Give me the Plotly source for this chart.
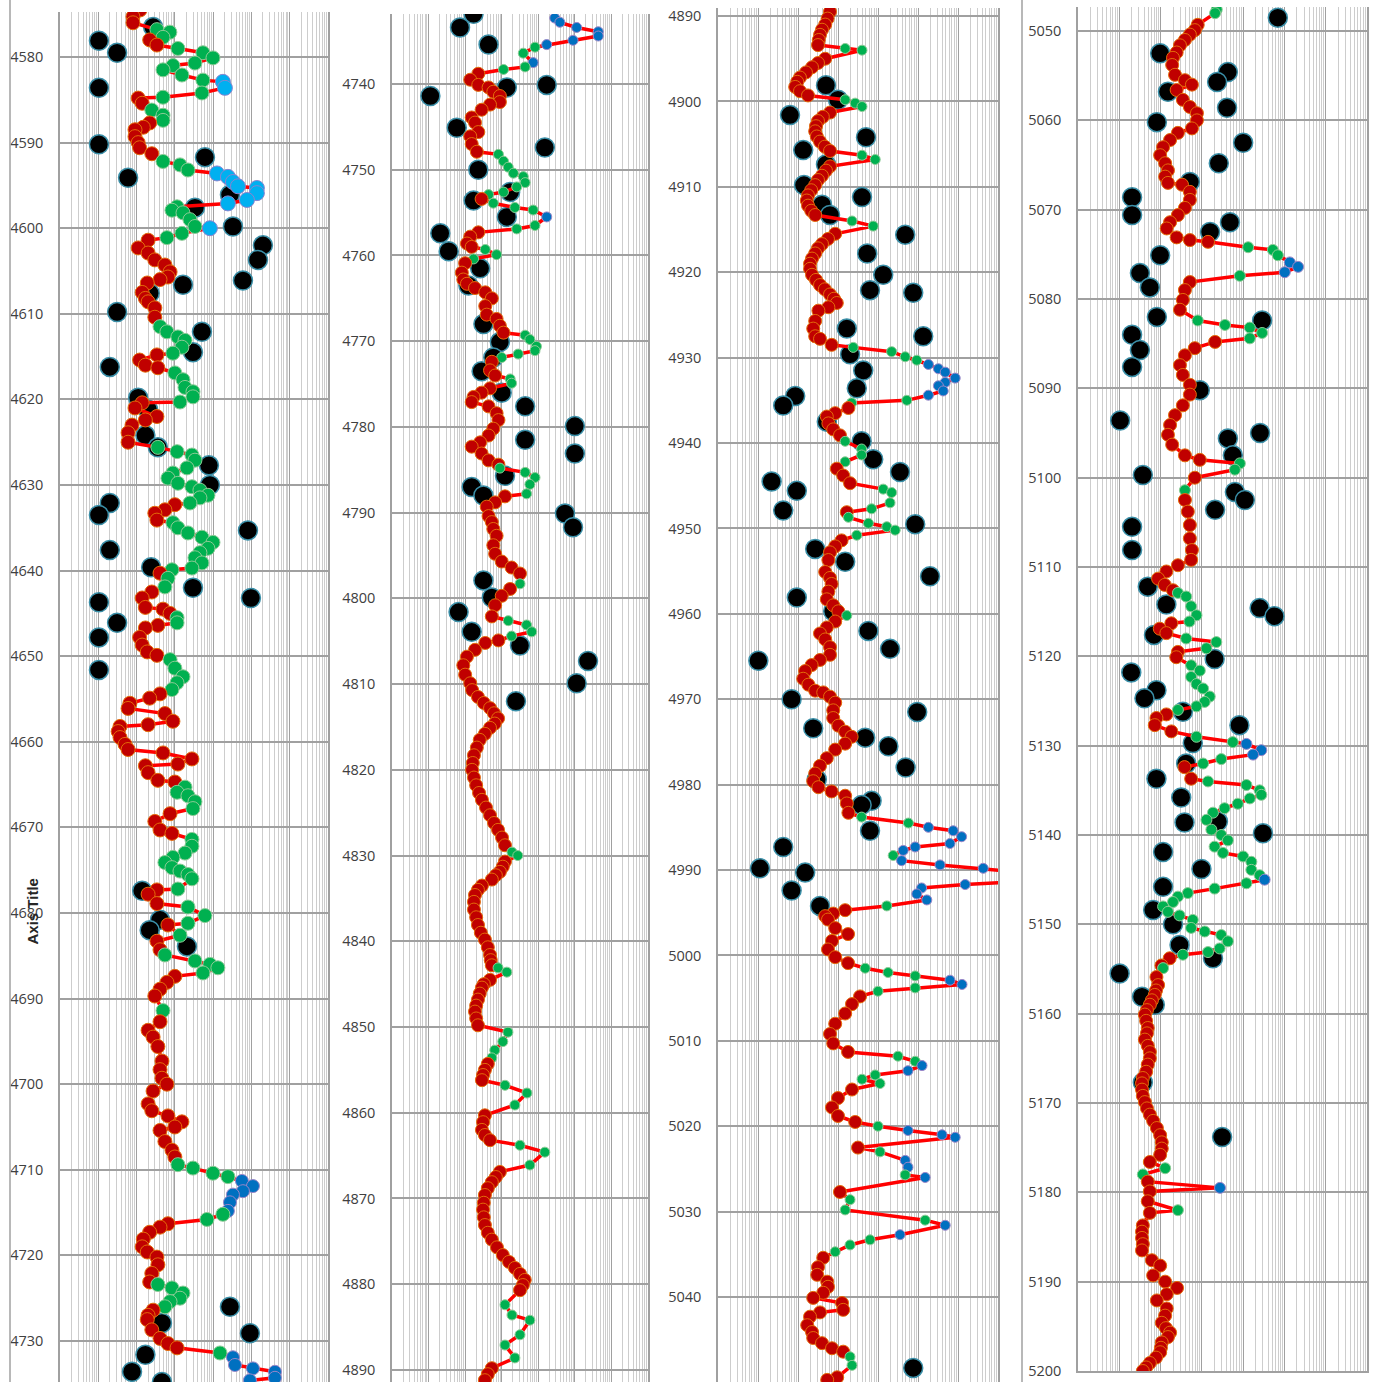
import plotly.graph_objects as go

# ---------------- well log data: depth, log value, facies class ----------------
# facies codes: R = red, G = green, B = blue, C = cyan


def expand(runs):
    """Facies classes are stored as (code, count) runs along the depth list."""
    return "".join(code * n for code, n in runs)


p1_depth = [
    4574.5, 4575.3, 4576.0, 4576.8, 4577.1, 4577.7, 4578.0, 4578.6, 4579.0, 4579.5,
    4580.1, 4580.7, 4581.0, 4581.5, 4582.1, 4582.7, 4582.9, 4583.6, 4584.2, 4584.7,
    4584.8, 4585.4, 4586.2, 4586.8, 4587.4, 4587.7, 4588.2, 4588.5, 4589.3, 4590.0,
    4590.6, 4591.3, 4592.2, 4592.6, 4593.2, 4593.6, 4594.0, 4594.6, 4595.1, 4595.3,
    4595.9, 4596.7, 4597.1, 4597.5, 4597.9, 4598.2, 4599.0, 4599.8, 4600.0, 4600.6,
    4601.1, 4601.4, 4602.3, 4602.9, 4603.7, 4604.3, 4605.1, 4605.7, 4606.0, 4606.4,
    4607.5, 4608.2, 4608.6, 4609.3, 4610.4, 4611.5, 4612.1, 4612.7, 4613.1, 4613.9,
    4614.6, 4614.8, 4615.4, 4616.0, 4616.3, 4616.9, 4617.7, 4618.6, 4619.1, 4619.7,
    4620.3, 4620.4, 4621.0, 4622.0, 4622.4, 4623.0, 4623.9, 4625.0, 4625.6, 4626.1,
    4626.5, 4627.1, 4628.0, 4628.6, 4629.2, 4629.8, 4630.2, 4630.6, 4631.2, 4631.5,
    4632.1, 4632.3, 4632.9, 4633.3, 4634.1, 4634.4, 4635.0, 4635.6, 4636.1, 4636.7,
    4637.4, 4637.9, 4638.5, 4639.1, 4639.7, 4639.9, 4640.3, 4640.9, 4641.9, 4642.5,
    4643.2, 4644.3, 4644.5, 4645.0, 4645.5, 4646.1, 4646.4, 4646.7, 4647.8, 4648.7,
    4649.5, 4649.9, 4650.4, 4651.4, 4652.4, 4653.1, 4653.9, 4654.4, 4654.9, 4655.5,
    4656.1, 4656.7, 4657.6, 4658.0, 4658.2, 4658.8, 4659.5, 4660.3, 4660.9, 4661.3,
    4662.0, 4662.6, 4662.8, 4663.6, 4664.5, 4664.7, 4665.3, 4665.9, 4666.3, 4667.0,
    4667.8, 4668.4, 4669.3, 4670.3, 4670.7, 4671.4, 4672.2, 4673.0, 4673.5, 4674.1,
    4674.7, 4675.1, 4675.5, 4676.0, 4677.2, 4677.3, 4677.8, 4678.9, 4679.3, 4680.3,
    4681.2, 4681.4, 4682.6, 4683.3, 4684.3, 4684.9, 4685.6, 4686.0, 4686.4, 4687.0,
    4687.4, 4688.1, 4688.9, 4689.7, 4691.4, 4692.7, 4693.7, 4694.5, 4695.6, 4697.3,
    4698.3, 4699.3, 4700.0, 4700.8, 4702.3, 4703.1, 4703.7, 4704.4, 4705.0, 4705.4,
    4706.7, 4707.7, 4708.5, 4709.4, 4709.8, 4710.4, 4710.8, 4711.3, 4711.9, 4712.5,
    4712.9, 4713.8, 4714.8, 4715.2, 4715.8, 4716.3, 4716.7, 4717.3, 4718.1, 4719.0,
    4719.6, 4720.2, 4721.1, 4722.1, 4723.1, 4723.4, 4723.8, 4724.4, 4725.0, 4725.4,
    4726.0, 4726.4, 4727.0, 4727.5, 4728.7, 4729.7, 4730.3, 4730.8, 4731.4, 4731.9,
    4732.8, 4733.2, 4733.6, 4734.3, 4734.6,
]
p1_value = [
    12.3, 8.05, 8.05, 34, 74, 49, 22, 34, 120, 540,
    990, 335, 89, 49, 153, 540, 1800, 2030, 510, 49,
    11, 14, 25, 49, 49, 22, 15, 9.1, 9.1, 11,
    12, 25, 49, 136, 220, 1260, 2430, 3290, 4450, 13900,
    13900, 7640, 2430, 114, 84, 163, 248, 335, 824, 153,
    62, 20, 11, 20, 30, 55, 75, 66, 41, 19,
    14, 17, 20, 30, 30, 41, 62, 120, 184, 153,
    89, 34, 12, 17, 36, 100, 163, 184, 297, 297,
    136, 14, 9.1, 34, 17, 7.6, 6.0, 6.0, 36, 114,
    279, 335, 207, 89, 66, 120, 279, 452, 731, 452,
    248, 100, 55, 30, 34, 89, 120, 220, 510, 990,
    731, 452, 335, 510, 279, 84, 41, 66, 55, 25,
    14, 17, 49, 75, 114, 114, 36, 17, 12, 14,
    19, 34, 75, 100, 163, 114, 84, 41, 22, 6.7,
    6.0, 55, 89, 20, 3.7, 3.3, 3.7, 5.0, 6.0, 49,
    279, 120, 17, 20, 36, 100, 184, 114, 220, 335,
    297, 75, 30, 41, 84, 279, 279, 184, 89, 55,
    84, 136, 220, 279, 120, 34, 20, 34, 220, 611,
    220, 66, 136, 34, 41, 55, 335, 824, 1330, 542,
    100, 62, 41, 30, 49, 41, 20, 27, 36, 46,
    41, 46, 62, 27, 20, 25, 66, 153, 100, 41,
    55, 84, 100, 120, 297, 990, 2430, 5650, 10950, 6000,
    3290, 2750, 2430, 1800, 690, 66, 41, 22, 15, 14,
    19, 34, 36, 25, 22, 36, 84, 163, 136, 75,
    55, 27, 20, 19, 25, 41, 66, 114, 1510, 3290,
    3710, 10950, 41100, 41100, 9140,
]
p1_facies = (
    "RRRGGGRRGG" "GGGGGGCCGG" "RRGGGRRRRR" "RRGGGCCCCC" "CCCGGGGGCG"
    "GRRRRRRRRR" "RRRRRGGGGG" "GRRRRGGGGG" "GRRRRRRRGG" "GGGGGGGGGG"
    "GRRRRGGGGG" "GGGGGGRGGR" "RRRRGGRRRR" "RRGGGGGRRR" "RRRRRRRRRR"
    "RRRRRRGGGG" "GRRRRGGGGG" "GGGGGRRRGG" "GRGRRGGGGG" "RRRRGRRRRR"
    "RRRRRRRRRR" "RRRGGGGBBB" "BBBGGRRRRR" "RRRRRGGGGG" "GRRRRRRRGB"
    "BBBBB"
)

p2_depth = [
    4732.3, 4732.8, 4733.4, 4733.9, 4734.4, 4734.9, 4735.4, 4735.7, 4736.4, 4737.5,
    4738.0, 4738.3, 4738.8, 4739.5, 4740.1, 4740.4, 4740.9, 4741.4, 4742.1, 4742.4,
    4743.0, 4743.9, 4744.5, 4745.6, 4746.1, 4747.0, 4747.9, 4748.2, 4749.0, 4749.7,
    4750.4, 4750.8, 4751.5, 4752.0, 4752.6, 4752.9, 4753.4, 4753.9, 4754.4, 4754.7,
    4755.5, 4756.5, 4756.9, 4757.3, 4757.8, 4758.6, 4759.0, 4759.3, 4759.9, 4760.4,
    4760.9, 4762.0, 4762.8, 4763.3, 4763.8, 4764.3, 4765.0, 4765.9, 4766.9, 4767.4,
    4768.2, 4769.0, 4769.3, 4769.8, 4770.6, 4771.1, 4771.5, 4771.9, 4772.4, 4773.4,
    4774.0, 4774.4, 4774.9, 4775.5, 4776.0, 4776.5, 4777.1, 4777.6, 4778.4, 4779.2,
    4780.2, 4781.0, 4781.8, 4782.3, 4783.1, 4783.9, 4784.4, 4784.8, 4785.3, 4785.9,
    4786.7, 4787.8, 4788.1, 4788.8, 4789.3, 4790.4, 4791.1, 4791.9, 4792.7, 4793.8,
    4794.8, 4795.7, 4796.4, 4797.1, 4798.3, 4798.9, 4799.7, 4800.8, 4802.1, 4802.6,
    4803.1, 4803.9, 4804.4, 4804.9, 4805.2, 4806.0, 4806.8, 4807.8, 4808.9, 4809.9,
    4810.7, 4811.5, 4812.2, 4812.8, 4813.4, 4814.0, 4814.6, 4815.1, 4815.8, 4816.5,
    4817.4, 4818.3, 4819.2, 4820.0, 4820.9, 4821.8, 4822.7, 4823.5, 4824.4, 4825.3,
    4826.2, 4827.0, 4827.9, 4828.8, 4829.6, 4830.0, 4830.7, 4831.3, 4831.9, 4832.3,
    4832.8, 4833.5, 4834.0, 4834.6, 4835.4, 4836.3, 4837.2, 4838.1, 4839.0, 4839.8,
    4840.7, 4841.6, 4842.2, 4842.8, 4843.1, 4843.6, 4844.5, 4845.0, 4845.4, 4846.1,
    4846.8, 4847.5, 4848.2, 4849.0, 4849.8, 4850.6, 4851.7, 4852.7, 4853.6, 4854.3,
    4855.0, 4855.6, 4856.2, 4856.8, 4857.7, 4859.1, 4860.3, 4861.1, 4862.0, 4862.6,
    4863.2, 4863.8, 4864.6, 4866.1, 4866.9, 4867.5, 4868.1, 4868.8, 4869.6, 4870.5,
    4871.3, 4872.2, 4873.1, 4874.0, 4874.8, 4875.7, 4876.6, 4877.4, 4878.1, 4878.8,
    4879.5, 4880.1, 4880.7, 4882.4, 4883.6, 4884.2, 4885.9, 4887.1, 4888.6, 4889.8,
    4890.5, 4891.2,
]
p2_value = [
    2820, 3890, 11200, 43700, 43700, 8910, 1700, 813, 389, 724,
    437, 112, 22.9, 13.8, 22.9, 43.7, 58.9, 89.1, 89.1, 47.9,
    28.2, 15.1, 18.6, 22.9, 13.8, 15.1, 20.9, 81.3, 112, 151,
    209, 389, 437, 257, 112, 43.7, 28.2, 58.9, 229, 724,
    1700, 813, 257, 22.9, 13.8, 11.2, 15.1, 35.5, 72.4, 17.0,
    10, 8.13, 8.91, 11.2, 18.6, 35.5, 53.7, 35.5, 38.9, 72.4,
    89.1, 112, 437, 589, 891, 813, 282, 100, 53.7, 47.9,
    66.1, 170, 186, 47.9, 28.2, 17.0, 15.1, 43.7, 72.4, 81.3,
    58.9, 43.7, 25.7, 15.1, 28.2, 43.7, 81.3, 89.1, 437, 813,
    589, 479, 123, 66.1, 38.9, 43.7, 53.7, 58.9, 72.4, 58.9,
    66.1, 100, 186, 316, 316, 170, 100, 66.1, 53.7, 151,
    479, 661, 186, 81.3, 35.5, 18.6, 11.2, 8.91, 10, 13.8,
    15.5, 22.4, 32.4, 47.9, 61.7, 79.4, 64.6, 47.9, 34.7, 25.1,
    20.9, 17.4, 16.2, 15.5, 17.4, 20, 24.0, 28.8, 37.2, 47.9,
    61.7, 79.4, 102, 123, 191, 275, 123, 107, 89.1, 69.2,
    53.7, 28.8, 22.4, 18.6, 17.4, 17.4, 20, 22.4, 26.9, 34.7,
    41.7, 47.9, 50.1, 53.7, 79.4, 138, 47.9, 32.4, 28.8, 25.1,
    22.4, 20, 18.6, 20, 22.4, 148, 107, 64.6, 53.7, 41.7,
    34.7, 30.9, 28.8, 123, 490, 229, 34.7, 30.9, 28.8, 34.7,
    47.9, 316, 1510, 589, 89.1, 69.2, 53.7, 41.7, 34.7, 32.4,
    30.9, 32.4, 34.7, 41.7, 53.7, 74.1, 107, 158, 229, 316,
    427, 380, 316, 123, 191, 589, 316, 123, 229, 53.7,
    41.7, 34.7,
]
p2_facies = expand([
    ("B", 7), ("G", 2), ("B", 1), ("G", 2), ("R", 15), ("G", 9), ("R", 1), ("G", 3),
    ("B", 1), ("G", 2), ("R", 4), ("G", 3), ("R", 12), ("G", 6), ("R", 3), ("G", 2),
    ("R", 14), ("G", 5), ("R", 12), ("G", 1), ("R", 4), ("G", 4), ("R", 31), ("G", 2),
    ("R", 18), ("G", 2), ("R", 9), ("G", 4), ("R", 4), ("G", 3), ("R", 5), ("G", 3),
    ("R", 19), ("G", 6), ("R", 3),
])

p3_depth = [
    4889.5, 4890.3, 4891.0, 4891.6, 4892.2, 4892.8, 4893.4, 4893.8, 4894.0, 4895.0,
    4895.5, 4896.0, 4896.6, 4897.2, 4897.7, 4898.3, 4898.8, 4899.3, 4899.8, 4900.2,
    4900.6, 4901.3, 4901.8, 4902.3, 4902.9, 4903.5, 4904.1, 4904.7, 4905.3, 4905.8,
    4906.3, 4906.8, 4907.6, 4908.1, 4908.7, 4909.2, 4909.8, 4910.4, 4911.0, 4911.6,
    4912.2, 4912.8, 4913.3, 4914.0, 4914.6, 4915.5, 4916.1, 4916.7, 4917.2, 4917.8,
    4918.4, 4919.0, 4919.6, 4920.3, 4920.9, 4921.5, 4922.0, 4922.6, 4923.1,
    4923.6, 4924.1, 4924.5, 4925.7, 4926.6, 4927.5, 4927.8, 4928.5, 4928.8, 4929.3,
    4929.9, 4930.3, 4930.8, 4931.3, 4931.7, 4932.4, 4932.9, 4933.3, 4933.9, 4934.4,
    4935.0, 4935.3, 4935.9, 4936.5, 4936.9, 4937.7, 4938.4, 4939.1, 4939.8, 4940.7,
    4941.4, 4942.2, 4943.0, 4943.8, 4944.7, 4945.4, 4945.8, 4947.0, 4947.7, 4948.1,
    4948.7, 4949.4, 4949.8, 4950.2, 4950.8, 4951.4, 4952.1, 4952.8, 4953.7, 4955.1,
    4955.8, 4956.5, 4957.4, 4958.3, 4959.0, 4959.7, 4960.2, 4960.9, 4961.6, 4962.3,
    4963.0, 4963.9, 4964.8, 4965.4, 4966.0, 4966.7, 4967.6, 4968.3, 4969.0, 4969.2,
    4969.7, 4970.4, 4971.3, 4972.2, 4973.1, 4973.8, 4974.4, 4975.2, 4975.9, 4976.9,
    4977.8, 4978.7, 4979.6, 4980.3, 4980.8, 4981.3, 4982.2, 4983.3, 4983.8, 4984.5,
    4985.0, 4985.4, 4986.1, 4986.9, 4987.3, 4987.7, 4988.3, 4988.9, 4989.4, 4989.8,
    4990.2, 4991.4, 4991.7, 4992.1, 4992.8, 4993.5, 4994.2, 4994.7, 4995.1, 4995.4,
    4995.8, 4996.8, 4997.5, 4998.3, 4999.3, 5000.2, 5000.9, 5001.5, 5002.0, 5002.4,
    5002.9, 5003.4, 5003.8, 5004.2, 5004.8, 5005.7, 5006.8, 5008.0, 5009.2, 5010.3,
    5011.3, 5011.8, 5012.4, 5012.9, 5013.5, 5014.0, 5014.5, 5015.0, 5015.7, 5016.7,
    5017.8, 5018.8, 5019.5, 5020.0, 5020.5, 5021.0, 5021.3, 5022.5, 5023.0, 5024.0,
    5024.8, 5025.7, 5026.0, 5027.7, 5028.6, 5029.8, 5031.0, 5031.6, 5032.7, 5033.3,
    5033.9, 5034.7, 5035.4, 5036.5, 5037.4, 5038.2, 5038.8, 5039.5, 5040.1, 5040.7,
    5041.5, 5041.8, 5042.3, 5043.3, 5044.1, 5044.8, 5045.4, 5046.0, 5046.4, 5047.0,
    5048.0, 5049.4, 5049.7,
]
p3_value = [
    63.1, 55.0, 47.9, 39.8, 35.5, 33.1, 31.6, 151, 398, 47.9,
    31.6, 22.4, 15.8, 11.2, 9.55, 8.51, 11.2, 17.8, 151, 269,
    398, 63.1, 41.7, 31.6, 28.2, 26.9, 29.5, 35.5, 46.8, 63.1,
    398, 851, 63.1, 50.1, 39.8, 31.6, 26.9, 21.4, 17.8, 16.6,
    17.8, 21.4, 26.9, 224, 759, 85.1, 56.2, 39.8, 31.6, 26.9,
    22.4, 20, 20, 22.4, 28.2, 35.5, 46.8, 63.1, 79.4,
    93.3, 57.5, 32.4, 26.9, 24.0, 26.9, 35.5, 69.2, 240, 2190,
    4790, 9330, 18200, 32400, 47900, 85100, 47900, 32400, 42700, 18200,
    5250, 219, 182, 85.1, 52.5, 57.5, 75.9, 112, 151, 389,
    389, 151, 93.3, 135, 200, 1350, 2190, 2000, 692, 166,
    182, 575, 1660, 2690, 295, 123, 85.1, 63.1, 57.5, 47.9,
    63.1, 69.2, 57.5, 52.5, 75.9, 102, 166, 85.1, 52.5, 35.5,
    47.9, 63.1, 63.1, 35.5, 21.9, 15.1, 13.5, 18.2, 26.9, 42.7,
    63.1, 85.1, 75.9, 75.9, 102, 151, 219, 151, 85.1, 52.5,
    35.5, 26.9, 24.0, 32.4, 69.2, 151, 166, 182, 389, 5750,
    18200, 75900, 123000, 63100, 8510, 4270, 2400, 3890, 35500, 427000,
    2500000, 2500000, 151000, 12300, 9330, 16600, 1660, 151, 75.9, 47.9,
    56.2, 85.1, 178, 70.8, 56.2, 85.1, 178, 479, 1780, 8510,
    63100, 126000, 8510, 1000, 355, 224, 151, 85.1, 63.1, 75.9,
    178, 3160, 8510, 12600, 5620, 851, 398, 1120, 224, 100,
    70.8, 100, 269, 1000, 5620, 39800, 85100, 316, 1120, 4790,
    5620, 4790, 15100, 112, 200, 151, 15100, 47900, 3550, 631,
    200, 85.1, 42.7, 31.6, 30.2, 53.7, 56.2, 42.7, 24.0, 126,
    135, 35.5, 20, 17.0, 22.4, 24.0, 39.8, 70.8, 135, 200,
    224, 95.5, 53.7,
]
p3_facies = expand([
    ("R", 7), ("G", 2), ("R", 9), ("G", 3), ("R", 9), ("G", 2), ("R", 11), ("G", 2),
    ("R", 22), ("G", 4), ("B", 8), ("G", 2), ("R", 6), ("G", 4), ("R", 3), ("G", 4),
    ("R", 1), ("G", 5), ("R", 11), ("G", 1), ("R", 31), ("G", 2), ("B", 6), ("G", 1),
    ("B", 9), ("G", 1), ("R", 10), ("G", 3), ("B", 2), ("G", 2), ("R", 7), ("G", 2),
    ("B", 2), ("G", 3), ("R", 5), ("G", 1), ("B", 3), ("R", 1), ("G", 1), ("B", 2),
    ("G", 1), ("B", 1), ("R", 1), ("G", 3), ("B", 2), ("G", 3), ("R", 17), ("G", 2),
    ("R", 2),
])

p4_depth = [
    5047.6, 5048.0, 5049.3, 5049.9, 5050.4, 5051.0, 5051.6, 5052.4, 5053.0, 5053.8,
    5054.9, 5055.5, 5056.0, 5056.6, 5057.7, 5058.5, 5059.2, 5060.0, 5060.9, 5061.4,
    5062.2, 5063.0, 5063.9, 5064.8, 5065.6, 5066.3, 5067.0, 5067.2, 5068.0, 5068.9,
    5069.8, 5070.6, 5071.4, 5072.1, 5073.1, 5073.4, 5073.6, 5074.2, 5074.5, 5075.1,
    5075.9, 5076.4, 5077.0, 5077.4, 5078.1, 5079.0, 5080.1, 5081.2, 5082.4, 5082.9,
    5083.2, 5083.8, 5084.4, 5084.8, 5085.5, 5086.3, 5087.4, 5088.5, 5089.6, 5090.7,
    5091.9, 5093.0, 5094.1, 5095.2, 5096.3, 5097.5, 5098.0, 5098.4, 5099.1, 5100.0,
    5101.4, 5102.5, 5103.8, 5105.3, 5106.8, 5108.1, 5109.2, 5109.8, 5110.5, 5111.3,
    5112.0, 5112.6, 5112.9, 5113.3, 5114.4, 5115.4, 5116.1, 5116.3, 5116.9, 5117.4,
    5118.0, 5118.4, 5119.1, 5119.5, 5120.1, 5121.0, 5121.6, 5122.3, 5123.1, 5123.6,
    5124.5, 5125.1, 5125.6, 5126.0, 5126.5, 5126.9, 5127.7, 5128.4, 5129.0, 5129.6,
    5129.8, 5130.5, 5131.0, 5131.5, 5132.0, 5132.4, 5133.7, 5134.0, 5134.4, 5135.0,
    5135.5, 5135.9, 5136.5, 5137.0, 5137.5, 5138.3, 5139.4, 5140.0, 5140.6, 5141.3,
    5142.0, 5142.4, 5143.0, 5143.9, 5144.5, 5145.0, 5145.4, 5146.0, 5146.5, 5146.9,
    5147.5, 5148.0, 5148.6, 5149.0, 5149.5, 5150.4, 5150.8, 5151.2, 5151.9, 5152.7,
    5153.1, 5153.4, 5153.8, 5154.6, 5154.9, 5155.9,
    5156.8, 5157.4, 5157.9, 5158.5, 5159.0, 5159.6, 5160.1, 5160.8, 5161.6, 5162.2,
    5162.9, 5163.6, 5164.3, 5165.0, 5165.7, 5166.5, 5167.2, 5167.8, 5168.5, 5169.2,
    5169.9, 5170.6, 5171.3, 5172.0, 5172.8, 5173.6, 5174.4, 5175.1, 5175.8, 5176.6,
    5177.3, 5178.0, 5178.8, 5179.5, 5179.9, 5181.0, 5182.0, 5182.3, 5183.7, 5184.4,
    5185.1, 5185.8, 5186.5, 5187.6, 5188.2, 5189.3, 5190.0, 5190.7, 5191.4, 5192.1,
    5193.0, 5193.8, 5194.6, 5195.2, 5195.7, 5196.2, 5196.8, 5197.4, 5197.9, 5198.5,
    5199.1, 5199.6, 5200.0,
]
p4_value = [
    229, 209, 79.4, 67.6, 51.3, 38.9, 29.5, 24.5, 20, 19.1,
    22.4, 38.9, 57.5, 24.5, 34.7, 51.3, 75.9, 75.9, 57.5, 26.3,
    17.0, 11.5, 9.77, 12.9, 15.1, 12.9, 15.1, 33.1, 51.3, 51.3,
    38.9, 26.3, 17.0, 14.1, 24.5, 51.3, 141, 1320, 5250, 6920,
    13500, 21400, 10200, 832, 51.3, 38.9, 34.7, 29.5, 79.4, 363,
    1450, 2880, 1450, 209, 67.6, 38.9, 29.5, 34.7, 51.3, 51.3,
    34.7, 22.4, 17.0, 15.1, 19.1, 38.9, 89.1, 832, 631, 67.6,
    38.9, 38.9, 45.7, 51.3, 51.3, 57.5, 55.0, 26.3, 13.8, 8.71,
    12.6, 20, 26.3, 41.7, 55.0, 74.1, 50.1, 18.2, 9.55, 13.8,
    41.7, 224, 129, 26.3, 24.0, 55.0, 89.1, 55.0, 74.1, 107,
    155, 117, 74.1, 26.3, 13.8, 7.94, 7.24, 18.2, 74.1, 562,
    1200, 2750, 1740, 295, 107, 38.0, 55.0, 141, 1200, 2510,
    2750, 1450, 741, 355, 186, 129, 170, 295, 427, 204,
    324, 1000, 1580, 1580, 2510, 3310, 1200, 204, 45.7, 26.3,
    20, 11.5, 15.1, 28.8, 60.3, 55.0, 117, 295, 427, 269,
    141, 34.7, 16.6, 10.5, 11.5, 7.94,
    8.71, 7.76, 7.24, 6.17, 5.50, 4.68, 4.17, 4.47, 4.90, 4.68,
    4.17, 4.90, 5.50, 5.50, 4.90, 4.47, 3.72, 3.55, 3.55, 3.72,
    4.17, 4.68, 5.50, 6.61, 8.13, 9.77, 10.7, 10.7, 9.77, 5.50,
    12.9, 3.72, 4.90, 275, 5.50, 4.90, 26.3, 5.50, 3.72, 3.55,
    3.55, 3.72, 3.55, 6.17, 9.77, 6.61, 12.9, 25.1, 14.1, 8.13,
    14.1, 12.9, 10.7, 13.5, 17.0, 15.1, 10.7, 10.2, 9.77, 7.76,
    5.50, 4.47, 3.72,
]
p4_facies = expand([
    ("G", 2), ("R", 35), ("G", 3), ("B", 3), ("G", 1), ("R", 4), ("G", 5), ("R", 14),
    ("G", 2), ("R", 1), ("G", 1), ("R", 11), ("G", 5), ("R", 3), ("G", 3), ("R", 2),
    ("G", 9), ("R", 4), ("G", 2), ("B", 3), ("G", 2), ("R", 2), ("G", 18), ("B", 1),
    ("G", 16), ("R", 2), ("G", 1), ("R", 31), ("G", 2), ("R", 1), ("B", 1), ("R", 2),
    ("G", 1), ("R", 26),
])

# secondary measurement plotted as large black dots
k1_depth = [
    4576.5, 4578.1, 4579.5, 4583.6, 4590.2, 4591.7, 4594.1, 4596.1, 4597.6, 4599.8,
    4602.0, 4603.7, 4606.1, 4606.6, 4607.6, 4609.8, 4612.1, 4614.5, 4616.2, 4619.8,
    4621.2, 4624.2, 4625.6, 4627.7, 4630.0, 4632.1, 4633.5, 4635.3, 4637.6, 4639.6,
    4642.0, 4643.2, 4643.7, 4646.1, 4647.8, 4651.6, 4677.4, 4680.8, 4682.0, 4683.9,
    4726.0, 4727.9, 4729.1, 4731.6, 4733.6, 4734.8,
]
k1_value = [
    27, 1.04, 3.1, 1.04, 1.04, 611, 6.0, 2750, 335, 3290,
    19950, 14800, 6000, 163, 22, 3.1, 510, 297, 2.0, 11,
    20, 17, 36, 776, 824, 2.0, 1.04, 8110, 2.0, 24,
    297, 9700, 1.04, 3.1, 1.04, 1.04, 14, 41, 22, 207,
    2750, 46, 9140, 17, 7.6, 46,
]
k2_depth = [
    4731.8, 4733.4, 4735.4, 4740.1, 4740.4, 4741.4, 4745.1, 4747.4, 4750.0, 4752.6,
    4753.6, 4755.5, 4757.4, 4759.5, 4761.5, 4763.5, 4768.0, 4770.1, 4771.9, 4773.5,
    4776.0, 4777.6, 4779.9, 4781.5, 4783.1, 4785.7, 4787.0, 4788.0, 4790.1, 4791.7,
    4797.9, 4799.9, 4801.6, 4803.9, 4805.5, 4807.3, 4809.9, 4812.0,
]
k2_value = [
    17.0, 7.24, 43.7, 1700, 138, 1.12, 5.89, 1510, 22.9, 170,
    17.0, 138, 2.09, 3.55, 25.7, 12.3, 31.6, 89.1, 58.9, 28.2,
    100, 437, 10000, 437, 10000, 123, 15.1, 31.6, 5370, 8910,
    31.6, 53.7, 6.61, 15.1, 316, 22900, 11200, 245,
]
k3_depth = [
    4898.1, 4899.8, 4901.6, 4904.2, 4905.7, 4907.4, 4909.8, 4911.2, 4912.1, 4913.3,
    4915.6, 4917.8, 4920.3, 4922.1, 4922.4, 4926.6, 4927.5, 4929.6, 4931.5, 4933.6,
    4934.5, 4935.6, 4937.5, 4939.8, 4941.9, 4943.4, 4944.5, 4945.6, 4947.9, 4949.5,
    4952.4, 4953.9, 4955.6, 4958.1, 4959.7, 4962.0, 4964.1, 4965.5, 4970.0, 4971.5,
    4973.4, 4974.5, 4975.5, 4978.0, 4979.4, 4981.9, 4982.4, 4985.4, 4987.3, 4989.8,
    4990.3, 4992.4, 4994.2, 5048.3,
]
k3_value = [
    50.1, 100, 6.31, 501, 13.5, 50.1, 14.1, 398, 39.8, 63.1,
    4790, 537, 1350, 631, 7590, 166, 13500, 200, 427, 295,
    8.51, 4.27, 52.5, 389, 759, 3550, 2.19, 9.33, 4.27, 8510,
    26.9, 151, 20000, 9.33, 75.9, 575, 2000, 1.02, 6.92, 9550,
    24.0, 479, 1820, 4900, 29.5, 692, 389, 631, 4.27, 1.12,
    15.1, 6.92, 35.5, 7590,
]
k4_depth = [
    5048.5, 5052.5, 5054.6, 5055.7, 5056.8, 5058.6, 5060.2, 5062.5, 5064.8, 5066.9,
    5068.6, 5070.6, 5071.4, 5072.5, 5075.1, 5077.1, 5078.7, 5082.0, 5082.4, 5084.0,
    5085.7, 5087.6, 5090.2, 5093.6, 5095.0, 5095.6, 5097.5, 5099.7, 5101.6, 5102.5,
    5103.6, 5105.5, 5108.1, 5112.2, 5114.2, 5114.6, 5115.5, 5117.6, 5120.3, 5121.8,
    5123.8, 5124.7, 5126.2, 5127.7, 5129.7, 5132.0, 5133.7, 5135.8, 5138.6, 5138.5,
    5139.8, 5141.9, 5143.8, 5145.8, 5148.4, 5150.0, 5152.3, 5153.8, 5155.5, 5158.1,
    5159.0, 5167.7, 5173.8,
]
k4_value = [
    6920, 9.77, 427, 234, 15.1, 407, 8.13, 1000, 257, 51.3,
    2.04, 2.04, 479, 158, 9.77, 3.16, 5.50, 8.13, 2880, 2.04,
    3.16, 2.04, 89.1, 1.05, 2570, 427, 562, 3.72, 631, 1100,
    209, 2.04, 2.04, 4.90, 13.8, 2510, 5750, 6.92, 204, 1.95,
    7.94, 4.07, 34.7, 813, 60.3, 41.7, 7.94, 31.6, 38.0, 245,
    3020, 11.5, 97.7, 11.5, 6.61, 20, 28.8, 186, 1.02, 3.55,
    7.24, 3.72, 309,
]

# ---------------- styling ----------------
W, H = 1380, 1382
FILL = {"R": "#C00000", "G": "#00B050", "B": "#0070C0", "C": "#00B0F0"}
EDGE = {"R": "#E46C0A", "G": "#8CCB96", "B": "#9A86C8", "C": "#8A84D0"}

# plot-area placement (pixels) and visible depth window for each track
tracks = [
    dict(curve=(p1_depth, p1_value, p1_facies), dots=(k1_depth, k1_value),
         x0=60, x1=328, top=12, bottom=1382, dtop=4574.74, dbot=4734.79,
         size={"R": 14, "G": 14, "B": 13, "C": 15}, lw=3.5),
    dict(curve=(p2_depth, p2_value, p2_facies), dots=(k2_depth, k2_value),
         x0=392, x1=648, top=14, bottom=1382, dtop=4731.83, dbot=4891.41,
         size={"R": 13, "G": 10, "B": 10, "C": 10}, lw=3.5),
    dict(curve=(p3_depth, p3_value, p3_facies), dots=(k3_depth, k3_value),
         x0=718, x1=998, top=8, bottom=1382, dtop=4889.06, dbot=5049.95,
         size={"R": 13, "G": 10, "B": 10, "C": 10}, lw=3.5),
    dict(curve=(p4_depth, p4_value, p4_facies), dots=(k4_depth, k4_value),
         x0=1078, x1=1367, top=7, bottom=1371, dtop=5047.31, dbot=5200.0,
         size={"R": 13, "G": 11, "B": 11, "C": 11}, lw=3.5),
]

fig = go.Figure()
layout = dict(
    width=W, height=H, autosize=False,
    margin=dict(l=0, r=0, t=0, b=0, pad=0),
    paper_bgcolor="white", plot_bgcolor="white",
    showlegend=False,
)

for i, t in enumerate(tracks, start=1):
    sfx = "" if i == 1 else str(i)
    xa, ya = "x" + sfx, "y" + sfx
    depth, value, facies = t["curve"]
    assert len(depth) == len(value) == len(facies), (i, len(depth), len(value), len(facies))
    kd, kv = t["dots"]
    assert len(kd) == len(kv)

    fig.add_trace(go.Scatter(
        x=kv, y=kd, mode="markers", xaxis=xa, yaxis=ya,
        marker=dict(size=19, color="#000000",
                    line=dict(color="#3A8FA8", width=1.5)),
        hoverinfo="skip",
    ))
    fig.add_trace(go.Scatter(
        x=value, y=depth, mode="lines+markers", xaxis=xa, yaxis=ya,
        line=dict(color="#FF0000", width=t["lw"]),
        marker=dict(
            size=[t["size"][f] for f in facies],
            color=[FILL[f] for f in facies],
            line=dict(color=[EDGE[f] for f in facies], width=1),
            opacity=1,
        ),
        hoverinfo="skip",
    ))

    layout["xaxis" + sfx] = dict(
        type="log", range=[-1, 6], anchor=ya, automargin=False,
        domain=[t["x0"] / W, t["x1"] / W],
        showticklabels=False, ticks="", zeroline=False,
        dtick=1, showgrid=True, gridcolor="#A0A0A0", gridwidth=1.4,
        minor=dict(dtick="D1", showgrid=True, gridcolor="#CDCDCD", gridwidth=1),
        showline=(i == 4), linecolor="#A0A0A0", linewidth=1.5,
    )
    layout["yaxis" + sfx] = dict(
        range=[t["dbot"], t["dtop"]], anchor=xa, automargin=False,
        domain=[1 - t["bottom"] / H, 1 - t["top"] / H],
        tick0=0, dtick=10, ticks="", zeroline=False,
        showgrid=True, gridcolor="#A0A0A0", gridwidth=1.5,
        showline=True, mirror=True, linecolor="#A0A0A0", linewidth=1.5,
        tickfont=dict(family="Open Sans", size=14.5, color="#404040"),
        ticklabelstandoff=12,
    )

layout["shapes"] = [
    dict(type="line", xref="paper", yref="paper", x0=10 / W, x1=10 / W, y0=0, y1=1,
         line=dict(color="#A0A0A0", width=1.5)),
    dict(type="line", xref="paper", yref="paper", x0=1022 / W, x1=1022 / W, y0=0, y1=1,
         line=dict(color="#A0A0A0", width=1.5)),
]
layout["annotations"] = [
    dict(text="<b>Axis Title</b>", xref="paper", yref="paper",
         x=21 / W, y=1 - 912 / H, showarrow=False, textangle=-90,
         font=dict(family="Liberation Sans", size=15, color="#262626")),
]

fig.update_layout(**layout)
fig.write_html("out.html")
